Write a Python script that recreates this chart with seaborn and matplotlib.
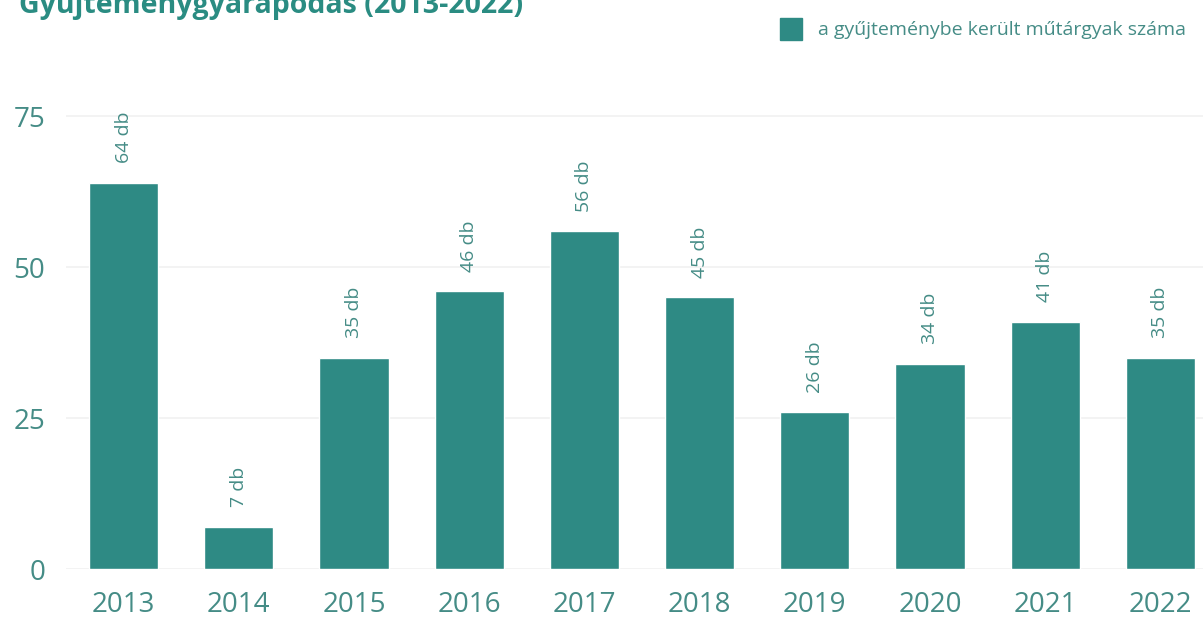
"""
Gyűjteménygyarapodás (2013-2022) — bar chart of acquired artworks per year.
Saves out.png (about 1203x618 px).
"""

import matplotlib
matplotlib.use("Agg")  # headless
import matplotlib.pyplot as plt
import pandas as pd
import seaborn as sns

# ---------- data ----------
YEARS = ["2013", "2014", "2015", "2016", "2017", "2018", "2019", "2020", "2021", "2022"]
COUNTS = [64, 7, 35, 46, 56, 45, 26, 34, 41, 35]
BAR_LABELS = [f"{c} db" for c in COUNTS]
Y_TICKS = [0, 25, 50, 75]
TITLE = "Gyűjteménygyarapodás (2013-2022)"
LEGEND_LABEL = "a gyűjteménybe került műtárgyak száma"

# colours
BAR_COLOR = "#2e8a84"
TEXT_COLOR = "#458c86"
TITLE_COLOR = "#2a8c82"
GRID_COLOR = "#f1f1f1"

sns.set_theme(style="white")
plt.rcParams["font.family"] = ["Open Sans", "DejaVu Sans"]

df = pd.DataFrame({"year": YEARS, "count": COUNTS})

W, H = 1203, 618
fig = plt.figure(figsize=(W / 100, H / 100), dpi=100)
# axes placed in pixel terms: x from 66 px to right edge, y from 74 px to 569 px
ax = fig.add_axes([66 / W, (H - 569) / H, (W - 66) / W, (569 - 74) / H])

sns.barplot(data=df, x="year", y="count", color=BAR_COLOR, width=0.6,
            saturation=1, ax=ax, label=LEGEND_LABEL, legend=False)

# value labels above bars (rotated)
ax.bar_label(ax.containers[0], labels=BAR_LABELS, rotation=90, padding=14,
             fontsize=14, color=TEXT_COLOR)

ax.set_xlim(-0.5, 9.37)
ax.set_ylim(0, 82)
ax.set_yticks(Y_TICKS)
ax.set_xlabel(""); ax.set_ylabel("")
ax.grid(axis="y", color=GRID_COLOR, linewidth=1.2)
ax.set_axisbelow(True)
sns.despine(ax=ax, left=True, bottom=True)
ax.tick_params(axis="y", length=0, pad=15, labelsize=20, labelcolor=TEXT_COLOR)
ax.tick_params(axis="x", length=0, pad=16, labelsize=20, labelcolor=TEXT_COLOR)

# legend (top right)
handle = plt.Rectangle((0, 0), 1, 1, color=BAR_COLOR)
fig.legend([handle], [LEGEND_LABEL], loc="upper right",
           bbox_to_anchor=(1.0, 1.0), frameon=False, fontsize=14,
           labelcolor=TEXT_COLOR, handlelength=1.15, handleheight=1.4,
           handletextpad=0.8, borderaxespad=0.5)

# title, cut off at the top like in the source
fig.text(19 / W, 1 - 13 / H, TITLE, fontsize=20.5, fontweight="bold",
         color=TITLE_COLOR, ha="left", va="baseline")

fig.savefig("out.png", dpi=100)
plt.close(fig)
